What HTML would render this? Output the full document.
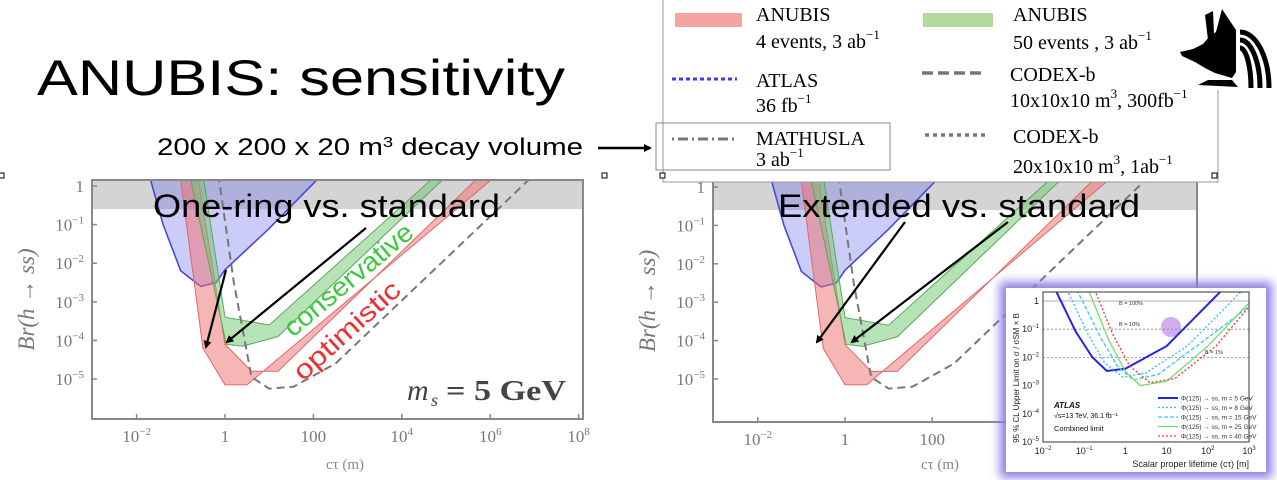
<!DOCTYPE html>
<html><head><meta charset="utf-8"><style>
html,body{margin:0;padding:0;background:#fff;}
body{width:1277px;height:480px;overflow:hidden;position:relative;font-family:"Liberation Sans",sans-serif;}
svg{position:absolute;left:0;top:0;}
.serif{font-family:"Liberation Serif",serif;}
</style></head><body>
<svg id="main" width="1277" height="480" viewBox="0 0 1277 480">
<defs>
<clipPath id="clipL"><rect x="92" y="180" width="491" height="239"/></clipPath>
<clipPath id="clipR"><rect x="713" y="180" width="484" height="242"/></clipPath>
<clipPath id="clipI"><rect x="1043" y="292" width="206" height="150"/></clipPath>
<marker id="ah" markerWidth="8" markerHeight="8" refX="6" refY="4" orient="auto" markerUnits="userSpaceOnUse"><path d="M0,0 L8,4 L0,8 z" fill="#000"/></marker>
<filter id="glow" x="-20%" y="-20%" width="140%" height="140%"><feGaussianBlur stdDeviation="5"/></filter>
</defs>
<text x="37" y="95" font-size="50" fill="#000" textLength="528" lengthAdjust="spacingAndGlyphs">ANUBIS: sensitivity</text>
<text x="157" y="155" font-size="24" fill="#000" textLength="426" lengthAdjust="spacingAndGlyphs">200 x 200 x 20 m<tspan font-size="15" dy="-8">3</tspan><tspan dy="8"> decay volume</tspan></text>
<line x1="598" y1="148" x2="650" y2="148" stroke="#000" stroke-width="2.5" marker-end="url(#ah)"/>
<g id="plotL"></g>
<g id="plotR"></g>
<g id="legend">
<rect x="663" y="-2" width="555" height="184" fill="#fff" stroke="#999" stroke-width="1"/>
<rect x="675" y="13" width="67" height="14" fill="#f4a5a0"/>
<text x="756" y="21" class="serif" font-size="20">ANUBIS</text>
<text x="756" y="48" class="serif" font-size="20">4 events, 3 ab<tspan font-size="13" dy="-9">−1</tspan></text>
<rect x="923" y="13" width="70" height="14" fill="#b3dba0"/>
<text x="1013" y="21" class="serif" font-size="20">ANUBIS</text>
<text x="1013" y="49" class="serif" font-size="20">50 events , 3 ab<tspan font-size="13" dy="-9">−1</tspan></text>
<line x1="672" y1="79" x2="737" y2="79" stroke="#3b3bff" stroke-width="3" stroke-dasharray="4,3"/>
<text x="756" y="87" class="serif" font-size="20">ATLAS</text>
<text x="756" y="112" class="serif" font-size="20">36 fb<tspan font-size="13" dy="-9">−1</tspan></text>
<line x1="922" y1="73" x2="985" y2="73" stroke="#777" stroke-width="3.5" stroke-dasharray="11,5"/>
<text x="1010" y="81" class="serif" font-size="20">CODEX-b</text>
<text x="1010" y="107" class="serif" font-size="20">10x10x10 m<tspan font-size="13" dy="-9">3</tspan><tspan dy="9">, 300fb</tspan><tspan font-size="13" dy="-9">−1</tspan></text>
<rect x="656" y="123" width="234" height="47" fill="none" stroke="#888" stroke-width="1"/>
<line x1="672" y1="139" x2="737" y2="139" stroke="#777" stroke-width="3" stroke-dasharray="2,4,10,4"/>
<text x="756" y="145" class="serif" font-size="20">MATHUSLA</text>
<text x="756" y="166" class="serif" font-size="20">3 ab<tspan font-size="13" dy="-9">−1</tspan></text>
<line x1="925" y1="135" x2="985" y2="135" stroke="#777" stroke-width="3.5" stroke-dasharray="4,4"/>
<text x="1013" y="143" class="serif" font-size="20">CODEX-b</text>
<text x="1013" y="173" class="serif" font-size="20">20x10x10 m<tspan font-size="13" dy="-9">3</tspan><tspan dy="9">, 1ab</tspan><tspan font-size="13" dy="-9">−1</tspan></text>
</g>
<g fill="#fff" stroke="#000" stroke-width="1">
<rect x="-1" y="173" width="5" height="5"/><rect x="602" y="173" width="5" height="5"/><rect x="660" y="173" width="5" height="5"/><rect x="1212" y="173" width="5" height="5"/>
</g>
<g fill="#000">
<rect x="1176" y="0" width="101" height="90" fill="#fff"/>
<path d="M1222,9 L1236,30 L1236,72 L1232,78 L1215,73 L1205,68 L1195,62 L1182,56 L1180,52 L1193,49 L1203,44 L1210,36 L1216,32 Z"/>
<path d="M1205,15 L1213,11 L1214,34 L1208,40 Z"/>
<path d="M1198,85 L1208,80 L1232,80 L1238,87 Z"/>
<path d="M1240,48 A11,40 0 0 1 1251,88" fill="none" stroke="#000" stroke-width="5"/>
<path d="M1240,40 A20,48 0 0 1 1260,88" fill="none" stroke="#000" stroke-width="5"/>
<path d="M1240,32 A29,56 0 0 1 1269,88" fill="none" stroke="#000" stroke-width="5"/>
</g>
<g id="inset"></g>
</svg>
<script>
// ---- main plot data (log10 ctau [m], log10 Br) ----
const atlasX = [-1.72, -1.4, -1.0, -0.55, -0.2, 0.0, 1.0, 2.2];
const atlasY = [0.3, -1.0, -2.2, -2.6, -2.5, -2.17, -1.1, 0.3];
const redOuterX = [-1.02, -0.5, 0.0, 0.5, 6.17];
const redOuterY = [0.3, -4.2, -5.15, -5.15, 0.3];
const redInnerX = [-0.62, 0.0, 0.6, 1.2, 5.8];
const redInnerY = [0.3, -4.1, -4.8, -4.8, 0.3];
const greenOuterX = [-0.8, 0.03, 0.4, 1.2, 5.05];
const greenOuterY = [0.3, -4.1, -4.15, -3.9, 0.3];
const greenInnerX = [-0.5, 0.0, 1.0, 4.8];
const greenInnerY = [0.3, -3.4, -3.6, 0.3];
const mathX = [-0.15, 0.2, 0.6, 1.0, 1.55, 2.5, 7.0];
const mathY = [0.3, -2.5, -4.95, -5.25, -5.2, -4.6, 0.3];
const xTickExp = [-2, 0, 2, 4, 6, 8];
const xTickLabels = ["10", "1", "100", "10", "10", "10"];
const xTickSup = ["−2", "", "", "4", "6", "8"];
const yTickExp = [0, -1, -2, -3, -4, -5];
const yTickLabels = ["1", "10", "10", "10", "10", "10"];
const yTickSup = ["", "−1", "−2", "−3", "−4", "−5"];
// ---- inset data (ATLAS) ----
const insetNames = ["5 GeV", "8 GeV", "15 GeV", "25 GeV", "40 GeV"];
const inset5X = [-1.7, -1.2, -0.8, -0.45, 0.0, 1.0, 2.3];
const inset5Y = [0.4, -1.1, -2.0, -2.48, -2.4, -1.6, 0.32];
const inset8X = [-1.42, -0.9, -0.5, -0.06, 0.5, 1.5, 2.8];
const inset8Y = [0.4, -1.2, -2.2, -2.7, -2.55, -1.6, 0.32];
const inset15X = [-1.18, -0.6, -0.2, 0.19, 0.8, 2.0, 3.0];
const inset15Y = [0.4, -1.3, -2.3, -2.8, -2.6, -1.3, -0.2];
const inset25X = [-0.9, -0.4, 0.0, 0.36, 1.0, 2.0, 3.0];
const inset25Y = [0.4, -1.4, -2.5, -3.0, -2.85, -1.6, -0.07];
const inset40X = [-0.75, -0.3, 0.1, 0.6, 1.2, 2.2, 3.0];
const inset40Y = [0.4, -1.2, -2.3, -2.9, -2.75, -1.6, -0.2];
const insetXTicks = [-2, -1, 0, 1, 2, 3];
const insetXLabels = ["10", "10", "1", "10", "10", "10"];
const insetXSup = ["−2", "−1", "", "", "2", "3"];
const insetYTicks = [0, -1, -2, -3, -4, -5];
const insetYLabels = ["1", "10", "10", "10", "10", "10"];
const insetYSup = ["", "−1", "−2", "−3", "−4", "−5"];

const NS = "http://www.w3.org/2000/svg";
function mk(tag, attrs, parent) {
  const e = document.createElementNS(NS, tag);
  for (const k in attrs) e.setAttribute(k, attrs[k]);
  parent.appendChild(e);
  return e;
}
function pts(xs, ys, sx, sy) { return xs.map((x, i) => sx(x) + "," + sy(ys[i])).join(" "); }

function drawPlot(g, cfg) {
  const sx = v => cfg.x0 + v * cfg.dx;
  const sy = v => cfg.y0 - v * cfg.dy;
  const cg = mk("g", {"clip-path": "url(#" + cfg.clip + ")"}, g);
  const band = mk("rect", {x: cfg.L, y: cfg.T, width: cfg.R - cfg.L, height: sy(-0.6) - cfg.T, fill: "#d4d4d4"}, cg);
  
  
  const atl = mk("polygon", {points: pts(atlasX, atlasY, sx, sy), fill: "rgba(110,110,235,0.35)", stroke: "#4a4ad8", "stroke-width": 1.6}, cg);
  
  
  const red = mk("polygon", {points: pts(redOuterX, redOuterY, sx, sy) + " " + pts(redInnerX.slice().reverse(), redInnerY.slice().reverse(), sx, sy), fill: "rgba(240,110,110,0.5)", stroke: "#e06868", "stroke-width": 1}, cg);
  
  
  const grn = mk("polygon", {points: pts(greenOuterX, greenOuterY, sx, sy) + " " + pts(greenInnerX.slice().reverse(), greenInnerY.slice().reverse(), sx, sy), fill: "rgba(110,200,110,0.5)", stroke: "#5aa85a", "stroke-width": 1}, cg);
  
  
  const mth = mk("polyline", {points: pts(mathX, mathY, sx, sy), fill: "none", stroke: "#777", "stroke-width": 2, "stroke-dasharray": "8,5"}, cg);
  
  
  const frame = mk("rect", {x: cfg.L, y: cfg.T, width: cfg.R - cfg.L, height: cfg.B - cfg.T, fill: "none", stroke: "#888", "stroke-width": 2}, g);
  
  
  xTickExp.forEach((v, i) => {
    const x = sx(v);
    if (x > cfg.R + 2) return;
    mk("line", {x1: x, y1: cfg.B, x2: x, y2: cfg.B - 5, stroke: "#888", "stroke-width": 1.5}, g);
    const t = mk("text", {x: x, y: cfg.B + 23, "font-size": 17, fill: "#777", "text-anchor": "middle", class: "serif"}, g);
    
    
    t.textContent = xTickLabels[i];
    if (xTickSup[i]) { const s = mk("tspan", {dy: -7, "font-size": 11}, t); s.textContent = xTickSup[i]; }
  });
  yTickExp.forEach((v, i) => {
    const y = sy(v);
    mk("line", {x1: cfg.L, y1: y, x2: cfg.L + 5, y2: y, stroke: "#888", "stroke-width": 1.5}, g);
    const t = mk("text", {x: cfg.L - 8, y: y + 6, "font-size": 17, fill: "#777", "text-anchor": "end", class: "serif"}, g);
    
    
    t.textContent = yTickLabels[i];
    if (yTickSup[i]) { const s = mk("tspan", {dy: -7, "font-size": 11}, t); s.textContent = yTickSup[i]; }
  });
  const yl = mk("text", {x: 0, y: 0, "font-size": 23, fill: "#777", "text-anchor": "middle", class: "serif", "font-style": "italic", transform: "translate(" + (cfg.L - 58) + "," + ((cfg.T + cfg.B) / 2) + ") rotate(-90)"}, g);
  
  
  yl.textContent = "Br(h → ss)";
  const xl = mk("text", {x: cfg.xlX, y: 469, "font-size": 15, fill: "#888", "text-anchor": "middle", class: "serif"}, g);
  
  
  xl.textContent = "cτ (m)";
}

drawPlot(document.getElementById("plotL"), {x0: 225, dx: 44.2, y0: 186, dy: 38.6, L: 92, R: 583, T: 180, B: 419, clip: "clipL", xlX: 345});
drawPlot(document.getElementById("plotR"), {x0: 845, dx: 43.6, y0: 187, dy: 38.4, L: 713, R: 1197, T: 180, B: 422, clip: "clipR", xlX: 940});

// annotations
const svg = document.getElementById("main");
function addText(txt, attrs, name) {
  const t = mk("text", attrs, svg);
  
  
  t.textContent = txt;
  return t;
}
addText("One-ring vs. standard", {x: 153, y: 217, "font-size": 32, fill: "#000", textLength: 347, lengthAdjust: "spacingAndGlyphs"}, "one-ring-annotation");
addText("Extended vs. standard", {x: 778, y: 217, "font-size": 32, fill: "#000", textLength: 362, lengthAdjust: "spacingAndGlyphs"}, "extended-annotation");
addText("m", {x: 407, y: 400, "font-size": 30, "font-style": "italic", class: "serif", fill: "#444"}, "mass-label");
const ms = addText("s", {x: 431, y: 406, "font-size": 18, "font-style": "italic", class: "serif", fill: "#444"}, "mass-subscript");
addText("= 5 GeV", {x: 446, y: 400, "font-size": 28, "font-weight": "bold", class: "serif", fill: "#444", textLength: 120, lengthAdjust: "spacingAndGlyphs"}, "mass-value");
addText("conservative", {x: 0, y: 0, "font-size": 27, fill: "#3ec83e", textLength: 160, lengthAdjust: "spacingAndGlyphs", transform: "translate(293,338) rotate(-40)"}, "conservative-label");
addText("optimistic", {x: 0, y: 0, "font-size": 27, fill: "#ee3030", textLength: 134, lengthAdjust: "spacingAndGlyphs", transform: "translate(303,382) rotate(-42)"}, "optimistic-label");
[[366,228,227,342],[226,270,206,347],[905,222,817,342],[1008,222,852,342]].forEach(a => {
  const l = mk("line", {x1: a[0], y1: a[1], x2: a[2], y2: a[3], stroke: "#000", "stroke-width": 2.2, "marker-end": "url(#ah)"}, svg);
  
  
});
svg.appendChild(document.getElementById("inset"));

// inset
const ig = document.getElementById("inset");
mk("rect", {x: 1000, y: 282, width: 272, height: 196, fill: "#8a7ee0", filter: "url(#glow)"}, ig);
mk("rect", {x: 1006, y: 288, width: 260, height: 184, fill: "#fff"}, ig);
const ix = v => 1125.4 + v * 41.2;
const iy = v => 301 - v * 28.2;
const icg = mk("g", {"clip-path": "url(#clipI)"}, ig);
[[0, "none", "#999"], [-1, "2,2", "#888"], [-2, "2,2", "#888"]].forEach(h => {
  mk("line", {x1: 1043, x2: 1249, y1: iy(h[0]), y2: iy(h[0]), stroke: h[2], "stroke-width": 0.8, "stroke-dasharray": h[1]}, icg);
});
const circ = mk("circle", {cx: 1171, cy: 327, r: 10, fill: "rgba(170,110,220,0.55)"}, icg);


const insetSeries = [[inset5X, inset5Y, "#2222ee", "none", 2], [inset8X, inset8Y, "#33bbee", "2,2", 1.3], [inset15X, inset15Y, "#33ccee", "4,2", 1.3], [inset25X, inset25Y, "#66dd66", "none", 1.2], [inset40X, inset40Y, "#ee3333", "2,2", 1.3]];
insetSeries.forEach((s, i) => {
  const p = mk("polyline", {points: pts(s[0], s[1], ix, iy), fill: "none", stroke: s[2], "stroke-width": s[4], "stroke-dasharray": s[3]}, icg);
  
  
  const y = 398 + i * 9.5;
  mk("line", {x1: 1158, x2: 1178, y1: y, y2: y, stroke: s[2], "stroke-width": s[4], "stroke-dasharray": s[3]}, ig);
  const t = mk("text", {x: 1181, y: y + 2.5, "font-size": 6.5, fill: "#333"}, ig);
  
  
  t.textContent = "Φ(125) → ss, m = " + insetNames[i];
});
mk("rect", {x: 1043, y: 292, width: 206, height: 150, fill: "none", stroke: "#333", "stroke-width": 1}, ig);
insetXTicks.forEach((v, i) => {
  const t = mk("text", {x: ix(v), y: 454, "font-size": 9, "text-anchor": "middle", fill: "#222"}, ig);
  
  
  t.textContent = insetXLabels[i];
  if (insetXSup[i]) { const s = mk("tspan", {dy: -4, "font-size": 6}, t); s.textContent = insetXSup[i]; }
});
insetYTicks.forEach((v, i) => {
  const t = mk("text", {x: 1039, y: iy(v) + 3, "font-size": 9, "text-anchor": "end", fill: "#222"}, ig);
  
  
  t.textContent = insetYLabels[i];
  if (insetYSup[i]) { const s = mk("tspan", {dy: -4, "font-size": 6}, t); s.textContent = insetYSup[i]; }
});
[["Scalar proper lifetime (cτ) [m]", {x: 1249, y: 467, "font-size": 9, "text-anchor": "end", fill: "#222"}, "inset-x-axis-title"],
 ["95 % CL Upper Limit on σ / σSM × B", {x: 0, y: 0, "font-size": 8, "text-anchor": "middle", fill: "#222", transform: "translate(1019,378) rotate(-90)"}, "inset-y-axis-title"],
 ["ATLAS", {x: 1054, y: 408, "font-size": 8, "font-weight": "bold", "font-style": "italic", fill: "#111"}, "inset-atlas-label"],
 ["√s=13 TeV, 36.1 fb⁻¹", {x: 1054, y: 418, "font-size": 7, fill: "#111"}, "inset-energy-label"],
 ["Combined limit", {x: 1054, y: 431, "font-size": 7.5, fill: "#111"}, "inset-combined-label"],
 ["B = 100%", {x: 1119, y: 305, "font-size": 5.5, fill: "#333"}, "inset-b100-label"],
 ["B = 10%", {x: 1119, y: 326, "font-size": 5.5, fill: "#333"}, "inset-b10-label"],
 ["B = 1%", {x: 1205, y: 354, "font-size": 5.5, fill: "#333"}, "inset-b1-label"]].forEach(a => {
  const t = mk("text", a[1], ig);
  
  
  t.textContent = a[0];
});
</script>
</body></html>
